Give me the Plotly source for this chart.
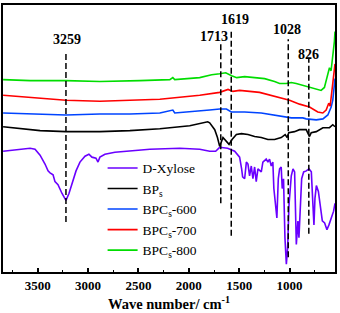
import plotly.graph_objects as go

# ---------------- data ----------------
series_names = ["D-Xylose", "BP<sub>s</sub>", "BPC<sub>s</sub>-600", "BPC<sub>s</sub>-700", "BPC<sub>s</sub>-800"]

xylose_wn = [3844, 3675, 3576, 3527, 3477, 3428, 3398, 3378, 3348, 3329, 3299, 3259, 3220, 3190, 3160, 3120, 3081,
             3031, 2992, 2962, 2922, 2902, 2883, 2833, 2734, 2635, 2387, 2090, 1892, 1793, 1734, 1694, 1615, 1545,
             1496, 1476, 1466, 1446, 1429, 1413, 1397, 1380, 1364, 1347, 1331, 1314, 1281, 1265, 1232, 1215, 1199,
             1182, 1166, 1156, 1139, 1126, 1112, 1099, 1083, 1073, 1060, 1046, 1032, 1019, 1006, 983, 966, 950, 933,
             917, 907, 893, 880, 860, 834, 807, 784, 768, 758, 748, 734, 714, 694, 675, 652, 629, 609, 586, 563, 549]
xylose_t = [123, 125, 126, 125, 119, 110, 103, 101, 99, 92, 89, 80, 73, 80, 90, 103, 112,
            118, 120, 117, 116, 112, 117, 120, 122, 123, 125, 126, 125, 123, 123, 127, 126, 123,
            117, 105, 97, 95, 112, 110, 98, 108, 95, 107, 92, 105, 102, 112, 115, 112, 115,
            108, 112, 85, 68, 55, 95, 105, 107, 85, 95, 35, 8, 25, 68, 98, 105, 102, 28,
            52, 35, 68, 95, 102, 103, 105, 102, 68, 48, 75, 88, 82, 68, 52, 50, 43, 48, 55, 62, 70]

bps_wn = [3844, 3675, 3477, 3220, 2883, 2585, 2288, 1991, 1892, 1813, 1793, 1743, 1716, 1694, 1661, 1627, 1601,
          1571, 1528, 1478, 1413, 1347, 1281, 1215, 1149, 1083, 1044, 1024, 1008, 951, 901, 835, 802, 785, 735,
          669, 604, 571, 549]
bps_t = [148, 146, 144, 143, 143, 144, 146, 149, 151, 153, 152, 145, 137, 128, 137, 133, 130,
         135, 140, 141, 140, 138, 137, 135, 135, 137, 140, 137, 142, 143, 145, 145, 138, 142, 143,
         147, 147, 150, 148]

bpc600_wn = [3844, 3477, 3220, 2883, 2585, 2288, 2159, 2140, 1991, 1793, 1694, 1627, 1578, 1446, 1281, 1116, 983,
             868, 835, 735, 669, 620, 587, 571, 555, 549]
bpc600_t = [162, 161, 160, 161, 161, 162, 165, 162, 163, 165, 166, 166, 163, 163, 162, 159, 157,
            157, 156, 155, 156, 160, 168, 175, 190, 197]

bpc700_wn = [3844, 3576, 3220, 2883, 2585, 2288, 2090, 1892, 1694, 1611, 1562, 1496, 1298, 1182, 1099, 1000, 901,
             802, 720, 670, 637, 611, 597, 578, 561, 549]
bpc700_t = [180, 178, 175, 174, 175, 176, 178, 180, 183, 186, 184, 185, 183, 180, 178, 175, 171,
            168, 163, 162, 165, 172, 169, 188, 205, 212]

bpc800_wn = [3844, 3576, 3220, 2883, 2486, 2189, 2159, 2140, 1892, 1773, 1694, 1634, 1575, 1525, 1446, 1347, 1248,
             1149, 1099, 1033, 983, 934, 868, 769, 687, 654, 621, 604, 588, 571, 555, 549]
bpc800_t = [196, 195, 195, 194, 195, 196, 198, 196, 198, 201, 202, 203, 200, 198, 199, 198, 197,
            194, 192, 192, 193, 192, 190, 187, 185, 188, 200, 208, 205, 218, 235, 245]

peak_labels = ["3259", "1713", "1619", "1028", "826"]
peak_line_x = [3220, 1683, 1579, 1013, 809]
peak_line_top = [225, 232, 247, 237, 217]
peak_line_bottom = [51, 70, 37, 15, 39]

tick_vals = [3500, 3000, 2500, 2000, 1500, 1000]

# ---------------- styling ----------------
FONT = "Times New Roman, Liberation Serif, serif"
colors = ["#6A00FF", "#000000", "#0044FF", "#FF0000", "#00DD00"]
xs = [xylose_wn, bps_wn, bpc600_wn, bpc700_wn, bpc800_wn]
ys = [xylose_t, bps_t, bpc600_t, bpc700_t, bpc800_t]

fig = go.Figure()
for name, x, y, c in zip(series_names, xs, ys, colors):
    fig.add_trace(go.Scatter(x=x, y=y, mode="lines", name=name,
                             line=dict(color=c, width=1.6)))

for xv, top, bot in zip(peak_line_x, peak_line_top, peak_line_bottom):
    fig.add_shape(type="line", xref="x", yref="y", x0=xv, x1=xv, y0=bot, y1=top,
                  line=dict(color="black", width=1.5, dash="6px,3px"))

label_offsets = [(-10, 12), (70, 8), (-34, 10), (17, 10), (3, 5)]  # (dx in wn, dy) for label placement
for lab, xv, top, (dx, dy) in zip(peak_labels, peak_line_x, peak_line_top, label_offsets):
    fig.add_annotation(x=xv + dx, y=top + dy, text="<b>%s</b>" % lab, showarrow=False,
                       xref="x", yref="y", yanchor="middle",
                       font=dict(family=FONT, size=14, color="black"))

fig.update_layout(
    width=340, height=313,
    margin=dict(l=3, r=4, t=3, b=38),
    paper_bgcolor="white", plot_bgcolor="white",
    showlegend=True,
    legend=dict(x=0.30, y=0.447, xanchor="left", yanchor="top",
                font=dict(family=FONT, size=13.5, color="black"),
                bgcolor="rgba(0,0,0,0)", itemwidth=30, tracegroupgap=0),
    font=dict(family=FONT, color="black"),
)
fig.update_xaxes(
    range=[3845, 549], showgrid=False, zeroline=False,
    showline=True, linecolor="black", linewidth=1.8, mirror=True,
    ticks="inside", ticklen=4, tickwidth=1.5, tickcolor="black",
    tickvals=tick_vals, ticktext=["<b>%d</b>" % v for v in tick_vals],
    tickfont=dict(family=FONT, size=13, color="black"),
    minor=dict(ticks="inside", ticklen=2.5, tickwidth=1.2, tickcolor="black", dtick=250, tick0=500),
    title=dict(text="<b>Wave number/ cm<sup>-1</sup></b>", font=dict(family=FONT, size=14.5, color="black"),
               standoff=7),
)
fig.update_yaxes(
    range=[0, 272], showgrid=False, zeroline=False, showticklabels=False,
    showline=True, linecolor="black", linewidth=1.8, mirror=True, ticks="",
)

fig.write_html("out.html", config={"displayModeBar": False},
               post_script="document.body.style.margin='0';document.body.style.padding='0';")
